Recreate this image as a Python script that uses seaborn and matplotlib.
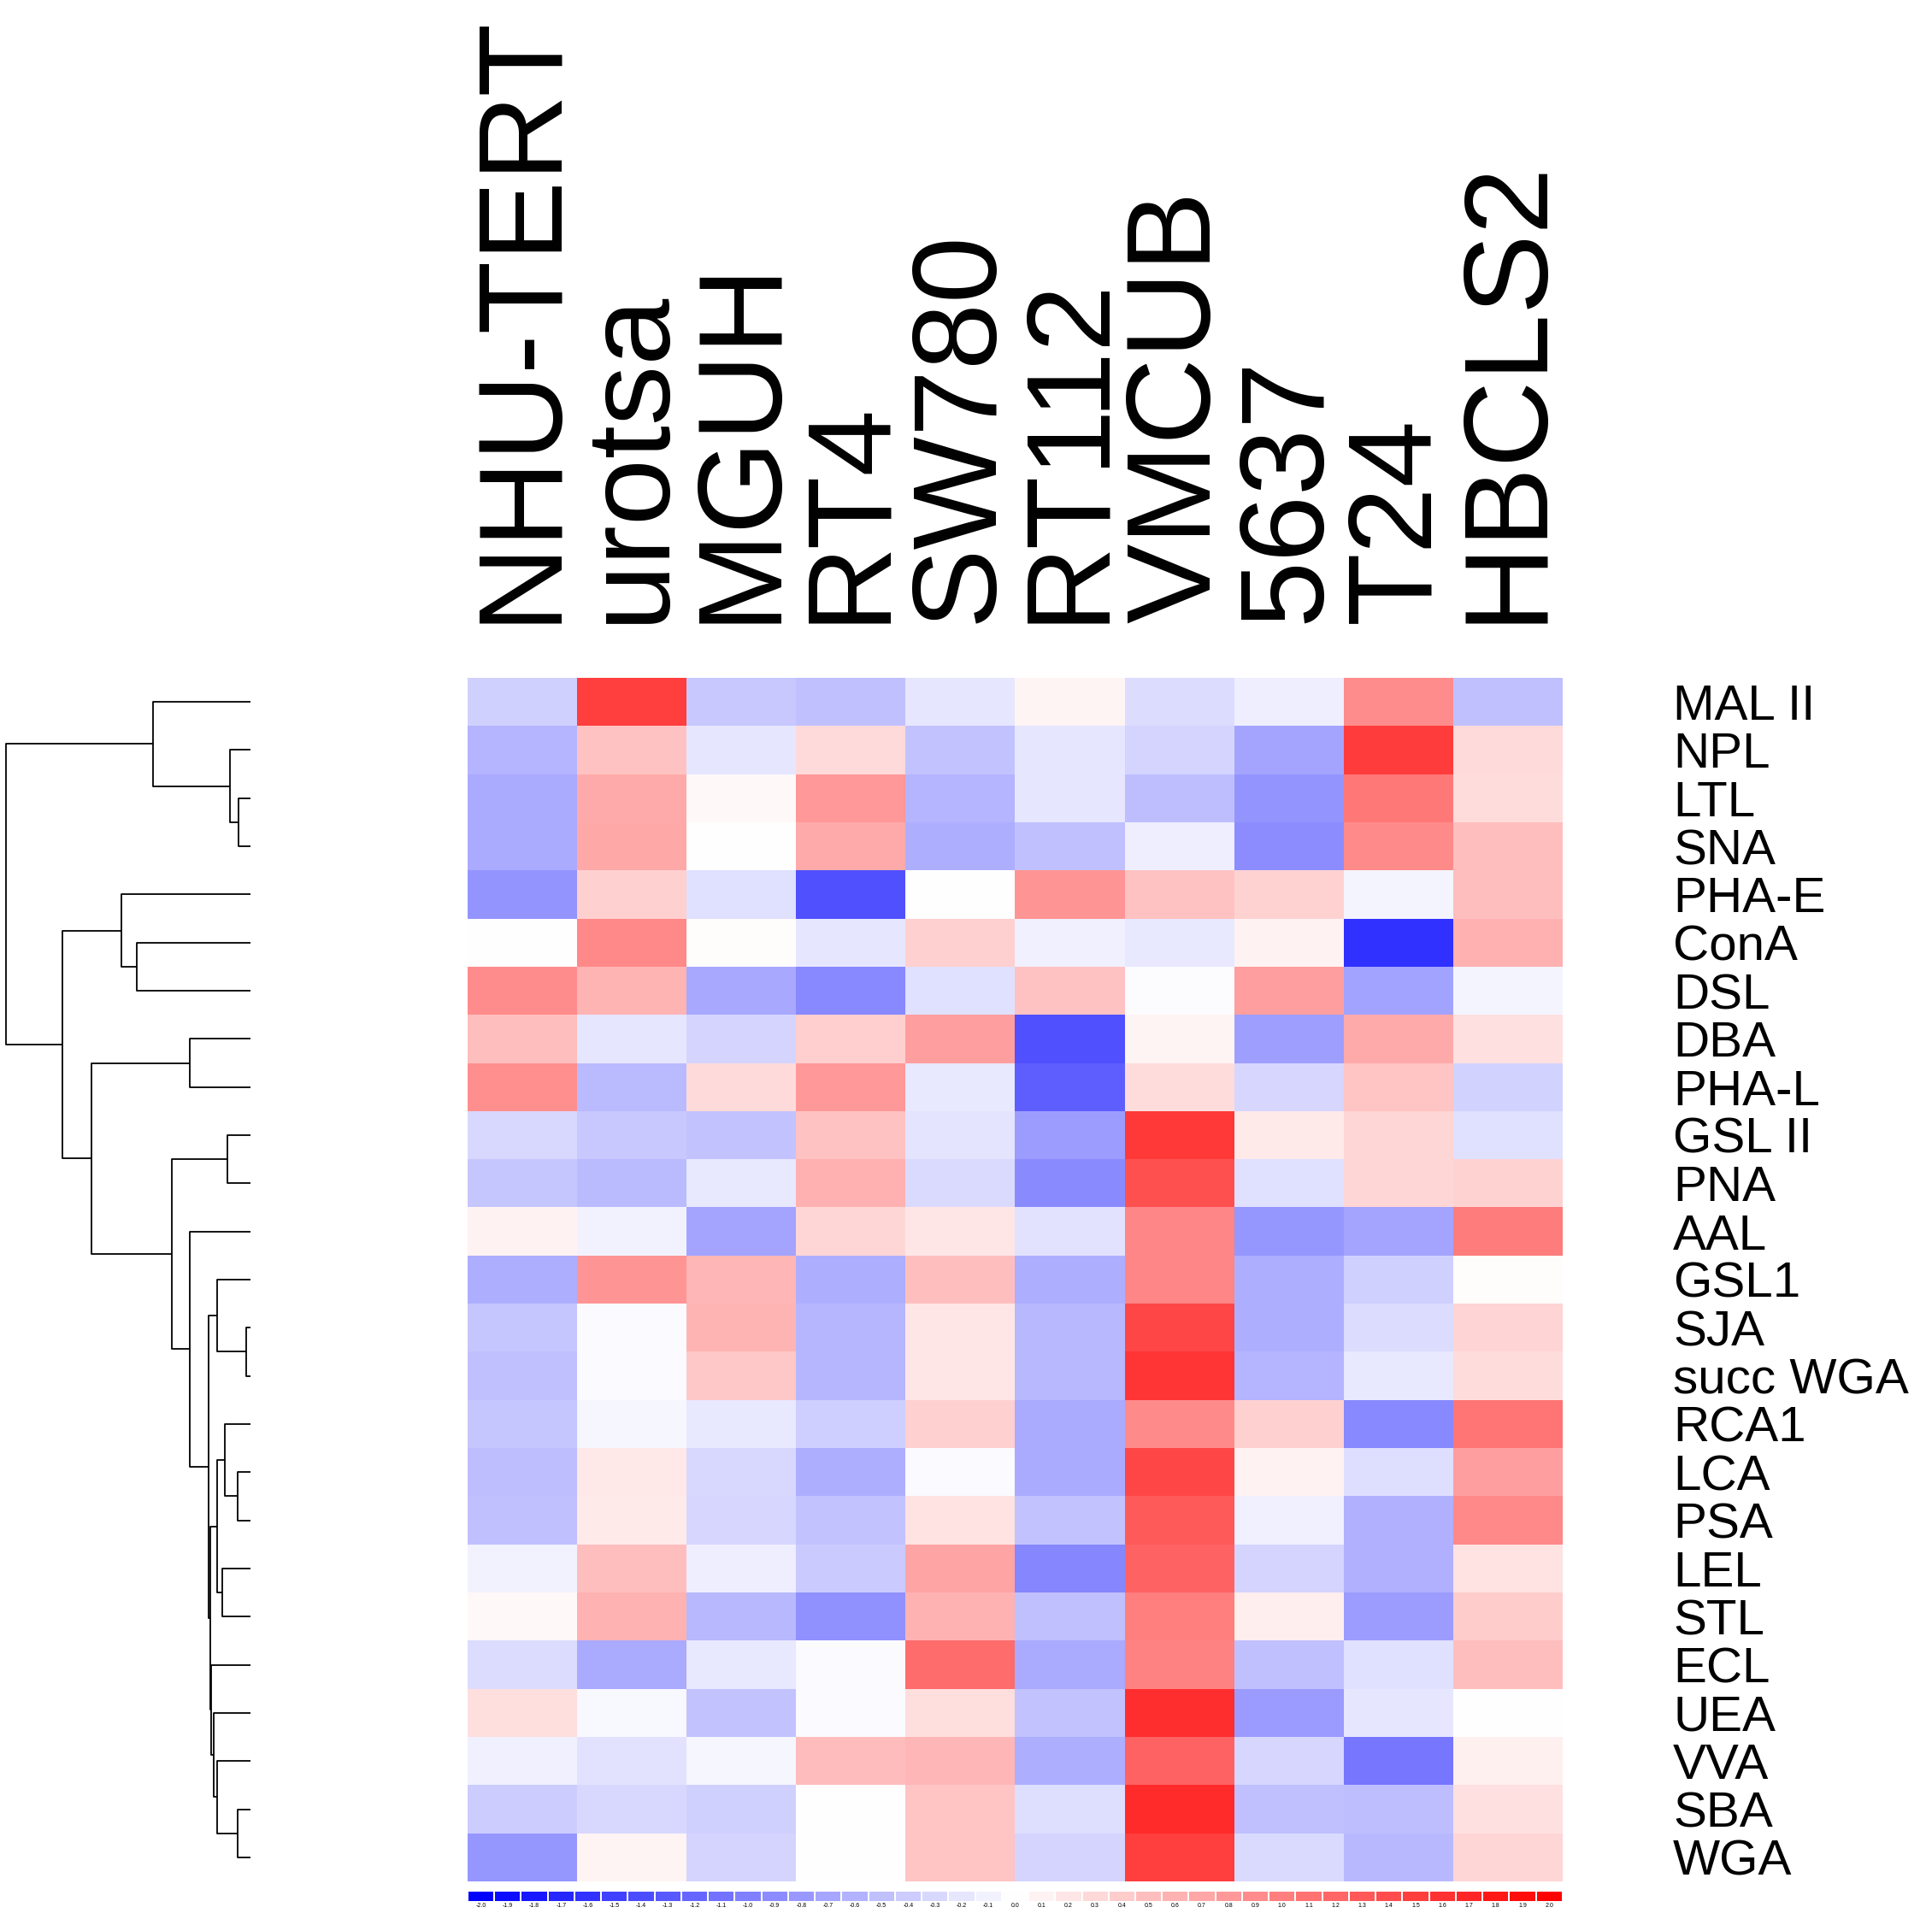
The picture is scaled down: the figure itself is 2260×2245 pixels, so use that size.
import numpy as np
import pandas as pd
import seaborn as sns
import matplotlib.pyplot as plt

# cell lines (columns) and lectins (rows, in dendrogram order)
cell_lines = ["NHU-TERT", "urotsa", "MGUH", "RT4", "SW780",
              "RT112", "VMCUB", "5637", "T24", "HBCLS2"]
lectins = ["MAL II", "NPL", "LTL", "SNA", "PHA-E", "ConA", "DSL", "DBA",
           "PHA-L", "GSL II", "PNA", "AAL", "GSL1", "SJA", "succ WGA",
           "RCA1", "LCA", "PSA", "LEL", "STL", "ECL", "UEA", "VVA", "SBA", "WGA"]

# values (scaled, -2 .. 2)
mal_ii   = [-0.37, 1.50, -0.43, -0.50, -0.20, 0.08, -0.27, -0.13, 0.90, -0.50]
npl      = [-0.59, 0.48, -0.20, 0.29, -0.48, -0.20, -0.34, -0.71, 1.53, 0.29]
ltl      = [-0.67, 0.67, 0.05, 0.81, -0.59, -0.20, -0.51, -0.84, 1.06, 0.27]
sna      = [-0.67, 0.68, 0.00, 0.67, -0.64, -0.50, -0.13, -0.90, 0.92, 0.51]
pha_e    = [-0.84, 0.37, -0.24, -1.37, 0.00, 0.84, 0.48, 0.35, -0.09, 0.50]
cona     = [0.00, 0.93, 0.03, -0.20, 0.37, -0.12, -0.18, 0.10, -1.62, 0.62]
dsl      = [0.90, 0.59, -0.68, -0.93, -0.24, 0.48, -0.02, 0.76, -0.73, -0.09]
dba      = [0.51, -0.20, -0.34, 0.38, 0.76, -1.36, 0.08, -0.76, 0.67, 0.24]
pha_l    = [0.89, -0.54, 0.29, 0.81, -0.18, -1.26, 0.27, -0.32, 0.46, -0.35]
gsl_ii   = [-0.31, -0.43, -0.48, 0.48, -0.21, -0.78, 1.56, 0.16, 0.32, -0.24]
pna      = [-0.45, -0.54, -0.18, 0.62, -0.29, -0.92, 1.36, -0.24, 0.32, 0.35]
aal      = [0.10, -0.10, -0.71, 0.32, 0.20, -0.23, 0.95, -0.82, -0.71, 1.03]
gsl1     = [-0.64, 0.84, 0.57, -0.64, 0.51, -0.64, 0.95, -0.64, -0.37, 0.03]
sja      = [-0.45, -0.04, 0.59, -0.57, 0.20, -0.56, 1.45, -0.64, -0.27, 0.33]
succ_wga = [-0.50, -0.04, 0.43, -0.57, 0.20, -0.56, 1.58, -0.59, -0.18, 0.27]
rca1     = [-0.45, -0.07, -0.18, -0.38, 0.37, -0.67, 0.92, 0.37, -0.93, 1.09]
lca      = [-0.51, 0.18, -0.31, -0.64, -0.04, -0.67, 1.45, 0.10, -0.26, 0.75]
psa      = [-0.50, 0.16, -0.32, -0.48, 0.22, -0.48, 1.29, -0.12, -0.62, 0.93]
lel      = [-0.10, 0.50, -0.13, -0.41, 0.71, -0.95, 1.22, -0.34, -0.62, 0.22]
stl      = [0.06, 0.60, -0.56, -0.87, 0.60, -0.50, 1.00, 0.13, -0.78, 0.40]
ecl      = [-0.27, -0.67, -0.18, -0.04, 1.15, -0.67, 0.98, -0.50, -0.24, 0.51]
uea      = [0.26, -0.05, -0.48, -0.04, 0.26, -0.48, 1.64, -0.79, -0.20, 0.00]
vva      = [-0.12, -0.23, -0.07, 0.52, 0.57, -0.64, 1.23, -0.32, -1.07, 0.12]
sba      = [-0.40, -0.31, -0.37, 0.00, 0.46, -0.26, 1.67, -0.50, -0.51, 0.24]
wga      = [-0.82, 0.08, -0.34, 0.00, 0.46, -0.34, 1.50, -0.29, -0.56, 0.32]

rows = [mal_ii, npl, ltl, sna, pha_e, cona, dsl, dba, pha_l, gsl_ii, pna, aal,
        gsl1, sja, succ_wga, rca1, lca, psa, lel, stl, ecl, uea, vva, sba, wga]

# row dendrogram: (node, left child, right child, merge height)
dendro_merges = [
    ("n1", "LTL", "SNA", 0.49),
    ("n2", "NPL", "n1", 0.84),
    ("n3", "MAL II", "n2", 3.99),
    ("n4", "ConA", "DSL", 4.64),
    ("n5", "PHA-E", "n4", 5.29),
    ("n6", "DBA", "PHA-L", 2.47),
    ("n7", "GSL II", "PNA", 0.93),
    ("n8", "SJA", "succ WGA", 0.16),
    ("n9", "GSL1", "n8", 1.37),
    ("n10", "LCA", "PSA", 0.51),
    ("n11", "RCA1", "n10", 1.05),
    ("n12", "LEL", "STL", 1.16),
    ("n13", "n11", "n12", 1.37),
    ("n14", "SBA", "WGA", 0.51),
    ("n15", "VVA", "n14", 1.37),
    ("n16", "UEA", "n15", 1.49),
    ("n17", "ECL", "n16", 1.62),
    ("n18", "n13", "n17", 1.65),
    ("n19", "n9", "n18", 1.71),
    ("n20", "AAL", "n19", 2.47),
    ("n21", "n7", "n20", 3.22),
    ("n22", "n6", "n21", 6.51),
    ("n23", "n5", "n22", 7.70),
    ("n24", "n3", "n23", 10.00),
]

# colour key levels
key_levels = [-2.0, -1.9, -1.8, -1.7, -1.6, -1.5, -1.4, -1.3, -1.2, -1.1, -1.0,
              -0.9, -0.8, -0.7, -0.6, -0.5, -0.4, -0.3, -0.2, -0.1, 0.0,
              0.1, 0.2, 0.3, 0.4, 0.5, 0.6, 0.7, 0.8, 0.9, 1.0,
              1.1, 1.2, 1.3, 1.4, 1.5, 1.6, 1.7, 1.8, 1.9, 2.0]

df = pd.DataFrame(rows, index=lectins, columns=cell_lines)

sns.set_style("white")
plt.rcParams["font.family"] = ["Liberation Sans", "DejaVu Sans"]
plt.rcParams["text.color"] = "black"
plt.rcParams["xtick.color"] = "black"
plt.rcParams["ytick.color"] = "black"

fig = plt.figure(figsize=(22.6, 22.45), dpi=100)

# main heatmap
ax = fig.add_axes([0.2420, 0.0196, 0.5668, 0.6272])
sns.heatmap(df, ax=ax, cmap="bwr", vmin=-2, vmax=2, cbar=False,
            xticklabels=True, yticklabels=True)
ax.set_xlabel("")
ax.set_ylabel("")
ax.xaxis.tick_top()
ax.yaxis.tick_right()
ax.set_xticklabels(cell_lines, rotation=90, fontsize=101, color="black")
ax.set_yticklabels(lectins, rotation=0, fontsize=42, ha="left", color="black")
ax.tick_params(axis="x", length=0, pad=46)
ax.tick_params(axis="y", length=0, pad=93)

# dendrogram on the left
ax_d = fig.add_axes([0.0031, 0.0196, 0.1265, 0.6272])
pos = {name: (i + 0.5, 0.0) for i, name in enumerate(lectins)}
for node, left, right, h in dendro_merges:
    y1, h1 = pos[left]
    y2, h2 = pos[right]
    ax_d.plot([h1, h, h, h2], [y1, y1, y2, y2], color="black", lw=1.3,
              solid_capstyle="butt", clip_on=False)
    pos[node] = ((y1 + y2) / 2, h)
ax_d.set_xlim(10, 0)
ax_d.set_ylim(len(lectins), 0)
ax_d.axis("off")

# colour key strip under the heatmap
ax_k = fig.add_axes([0.2420, 0.0089, 0.5668, 0.0058])
sns.heatmap(np.array([key_levels]), ax=ax_k, cmap="bwr", vmin=-2, vmax=2,
            cbar=False, linewidths=1.4, linecolor="white",
            xticklabels=[f"{v:.1f}" for v in key_levels], yticklabels=False)
ax_k.tick_params(axis="x", length=0, pad=1, labelsize=5, labelrotation=0,
                 labelcolor="black")

fig.savefig("out.png", dpi=100)
